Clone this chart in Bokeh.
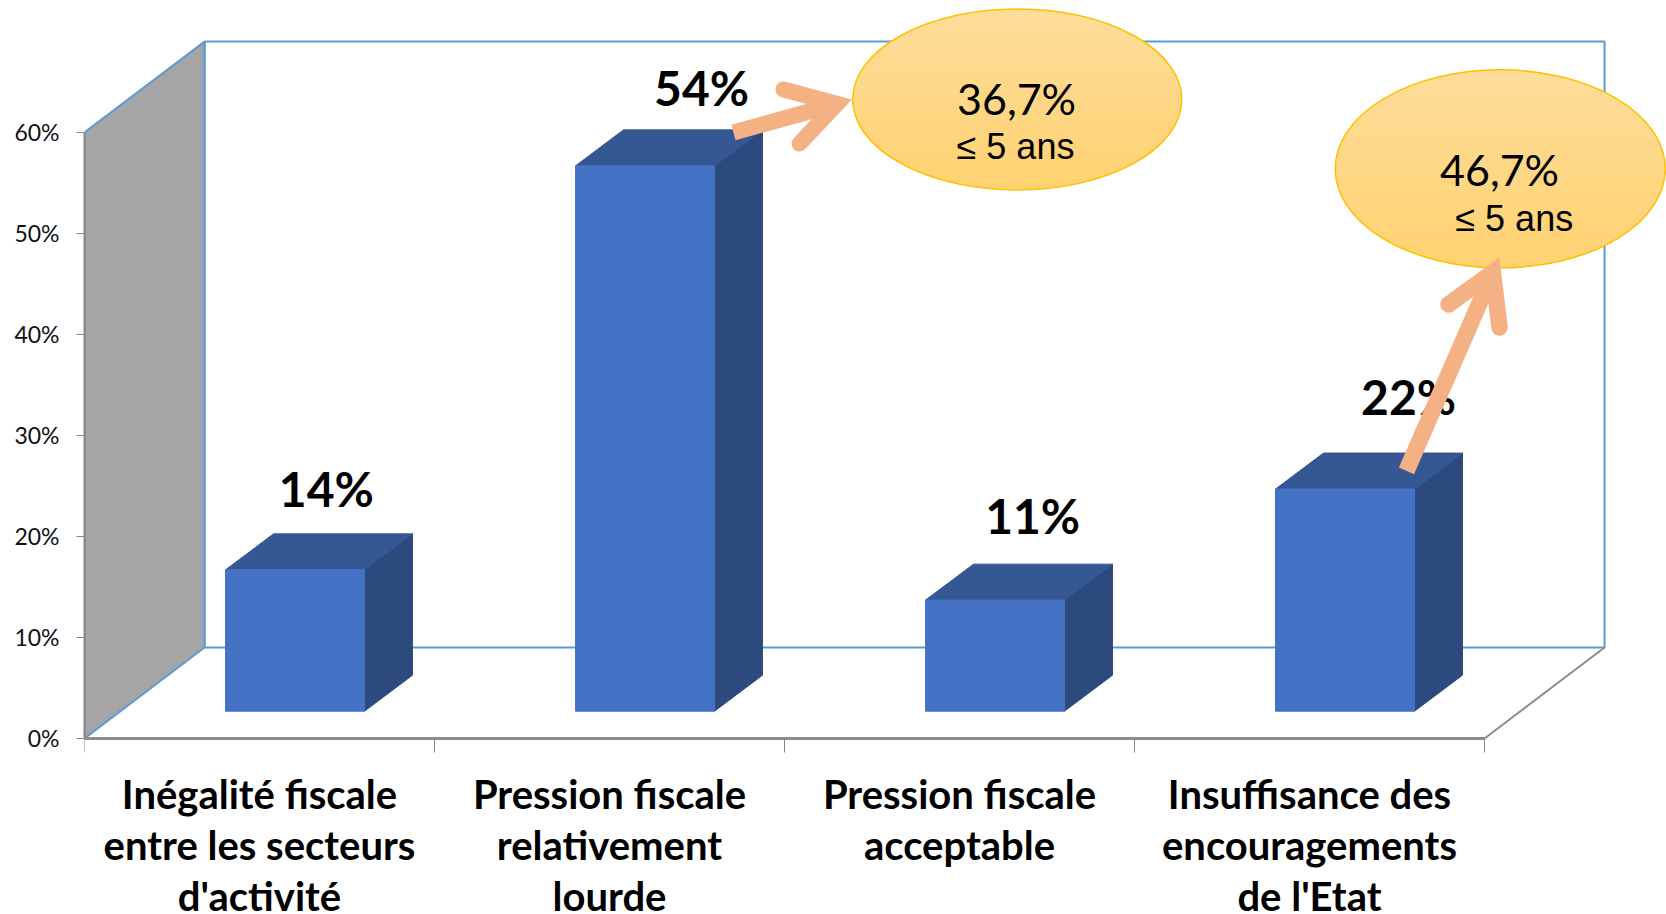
import math

from bokeh.embed import file_html
from bokeh.models import FixedTicker, Label, LinearAxis, Range1d
from bokeh.plotting import figure
from bokeh.resources import INLINE
from bokeh.core.properties import value

# Chart content
categories = [
    "Inégalité fiscale\nentre les secteurs\nd'activité",
    "Pression fiscale\nrelativement\nlourde",
    "Pression fiscale\nacceptable",
    "Insuffisance des\nencouragements\nde l'Etat",
]
shares = [14, 54, 11, 22]
share_labels = ["14%", "54%", "11%", "22%"]
y_ticks = [0, 10, 20, 30, 40, 50, 60]
y_tick_labels = ["0%", "10%", "20%", "30%", "40%", "50%", "60%"]
callout_shares = ["36,7%", "46,7%"]
callout_notes = ["≤ 5 ans", "≤ 5 ans"]

# Label placement in axis units
label_x = [0.691, 1.763, 2.709, 3.783]
label_y = [24.75, 64.46, 22.1, 33.86]

# Depth of the pseudo-3D box and of the columns, in axis units
BOX_DX, BOX_DY = 0.343, 9.0
BAR_DX, BAR_DY = 0.137, 3.56
BAR_BASE = 2.7
BAR_LEFT = 0.403
BAR_WIDTH = 0.397
N = len(categories)
Y_MAX = 60

# Screen pixels per axis unit
PX_X, PX_Y = 350, 10.1

# The frame runs to the bottom of the page so that the category names sit inside it
p = figure(
    width=1666, height=914, output_backend="svg", toolbar_location=None,
    x_range=Range1d(0, 4.52), y_range=Range1d(-17.43, 73.07),
    x_axis_type=None, y_axis_type=None,
    min_border_left=84, min_border_right=0, min_border_top=0, min_border_bottom=0,
    outline_line_color=None, background_fill_color="white",
)
p.xgrid.visible = False
p.ygrid.visible = False

# Axes
y_axis = LinearAxis(
    ticker=FixedTicker(ticks=y_ticks, minor_ticks=[]),
    major_label_overrides=dict(zip(y_ticks, y_tick_labels)),
    major_label_text_font="Lato", major_label_text_font_size="23px",
    major_label_text_color="#111111", major_label_standoff=17,
    major_tick_in=0, major_tick_out=8, major_tick_line_color="#868686",
    axis_line_color="#868686", axis_line_width=2, bounds=(0, Y_MAX),
)
p.add_layout(y_axis, "left")

x_axis = LinearAxis(
    ticker=FixedTicker(ticks=list(range(N + 1)), minor_ticks=[]),
    major_label_text_color=None, major_label_text_font_size="1px",
    major_tick_in=0, major_tick_out=14, major_tick_line_color="#868686",
    axis_line_color="#8c8c8c", axis_line_width=3, bounds=(0, N),
    fixed_location=0,
)
p.add_layout(x_axis, "below")

# Category names, one centred text per line under each slot
FIRST_LINE_Y, LINE_STEP = -5.45, 5.05
for i, name in enumerate(categories):
    for j, line in enumerate(name.split("\n")):
        p.add_layout(Label(
            x=i + 0.5, y=FIRST_LINE_Y - j * LINE_STEP, text=line,
            text_font="Lato", text_font_style="bold", text_font_size="40px",
            text_color="black", text_align="center", text_baseline="middle",
        ))

# Grey side wall, back wall and floor edges
WALL = "#5b9bd5"
p.patch([0, BOX_DX, BOX_DX, 0], [Y_MAX, Y_MAX + BOX_DY, BOX_DY, 0],
        fill_color="#a5a5a5", line_color=WALL, line_width=2)
p.line([BOX_DX, BOX_DX, N + BOX_DX, N + BOX_DX, BOX_DX],
       [BOX_DY, Y_MAX + BOX_DY, Y_MAX + BOX_DY, BOX_DY, BOX_DY],
       line_color=WALL, line_width=2)
p.line([N, N + BOX_DX], [0, BOX_DY], line_color="#8c8c8c", line_width=2)

# Columns: side and top faces, then the front face
lefts = [i + BAR_LEFT for i in range(N)]
rights = [x + BAR_WIDTH for x in lefts]
tops = [BAR_BASE + v for v in shares]
p.patches(
    [[r, r + BAR_DX, r + BAR_DX, r] for r in rights],
    [[BAR_BASE, BAR_BASE + BAR_DY, t + BAR_DY, t] for t in tops],
    fill_color="#2c4a7e", line_color="#2c4a7e", line_width=1,
)
p.patches(
    [[l, l + BAR_DX, r + BAR_DX, r] for l, r in zip(lefts, rights)],
    [[t, t + BAR_DY, t + BAR_DY, t] for t in tops],
    fill_color="#355794", line_color="#355794", line_width=1,
)
p.quad(left=lefts, right=rights, bottom=BAR_BASE, top=tops,
       fill_color="#4472c4", line_color="#4472c4", line_width=1)

p.text(label_x, label_y, text=share_labels, text_font=value("Lato"),
       text_font_style="bold", text_font_size="48px", text_color="black",
       text_align="center", text_baseline="middle")


def lerp_hex(a, b, t):
    ca = [int(a[i:i + 2], 16) for i in (1, 3, 5)]
    cb = [int(b[i:i + 2], 16) for i in (1, 3, 5)]
    return "#%02x%02x%02x" % tuple(round(u + (w - u) * t) for u, w in zip(ca, cb))


def gold_ellipse(cx, cy, w_px, h_px):
    # Vertical gold gradient, painted as nested caps from the full shape downwards
    rx, ry = w_px / 2 / PX_X, h_px / 2 / PX_Y
    steps, arc = 36, 120
    for k in range(steps):
        f = k / steps
        start = math.asin(1 - 2 * f)
        span = math.pi + 2 * start
        xs, ys = [], []
        for j in range(arc + 1):
            a = (math.pi - start) + span * j / arc
            xs.append(cx + rx * math.cos(a))
            ys.append(cy + ry * math.sin(a))
        p.patch(xs, ys, fill_color=lerp_hex("#fedd9b", "#ffd270", f), line_color=None)
    p.ellipse([cx], [cy], width=w_px, height=h_px, width_units="screen", height_units="screen",
              fill_color=None, line_color="#ffc000", line_width=1.5)


ARROW = "#f4b183"


def arrow(x0, y0, vx, vy, bx1, by1, bx2, by2, w):
    # Square-ended shaft, then a mitred head with rounded barbs
    p.line([x0, vx], [y0, vy], line_color=ARROW, line_width=w, line_cap="butt")
    p.line([bx1, vx, bx2], [by1, vy, by2], line_color=ARROW, line_width=w,
           line_cap="round", line_join="miter")


gold_ellipse(2.665, 63.27, 329, 181)
arrow(1.854, 60.0, 2.150, 62.84, 1.997, 64.26, 2.043, 58.9, 16)
gold_ellipse(4.045, 56.4, 330, 198)
arrow(3.777, 26.5, 4.024, 46.15, 3.897, 42.97, 4.043, 40.69, 16.5)

p.text([2.663, 4.043], [63.4, 56.3], text=callout_shares, text_font=value("Lato"),
       text_font_size="43px", text_color="black", text_align="center", text_baseline="middle")
p.text([2.66, 4.085], [58.6, 51.5], text=callout_notes, text_font=value("Liberation Sans"),
       text_font_size="36px", text_color="black", text_align="center", text_baseline="middle")

open("out.html", "w").write(file_html(p, INLINE))
